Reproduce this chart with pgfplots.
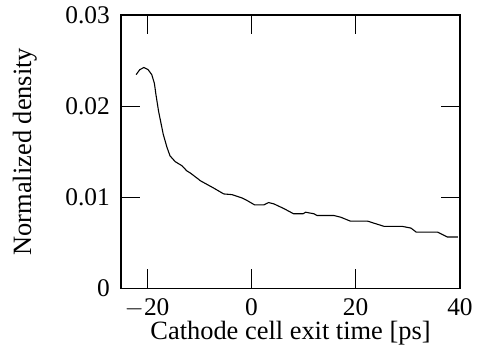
\documentclass[border=0pt]{standalone}
\usepackage{pgfplots}
\pgfplotsset{compat=1.18}
\usepackage{fontspec}
\setmainfont{Liberation Serif}
\begin{document}
\fontsize{26.5}{30}\selectfont
\begin{tikzpicture}
\useasboundingbox (-121bp,-62.7bp) rectangle (365bp,288.3bp);
\begin{axis}[
  at={(0,0)}, anchor=south west,
  scale only axis, width=339bp, height=273.3bp,
  xmin=-25, xmax=40, ymin=0, ymax=0.03,
  xtick={-20,0,20,40}, xticklabels={$-$20,0,20,40},
  ytick={0,0.01,0.02,0.03}, yticklabels={0,0.01,0.02,0.03},
  scaled y ticks=false,
  tick align=inside, major tick length=19bp,
  tick style={line width=1.1pt, black},
  axis line style={line width=1.1pt},
  /pgf/number format/assume math mode=true,
  ticklabel style={font=\fontsize{25.5}{30}\selectfont, inner sep=0pt},
  label style={font=\fontsize{26.5}{30}\selectfont},
  xticklabel style={yshift=-10bp},
  yticklabel style={xshift=-11bp},
  xlabel={Cathode cell exit time [ps]},
  ylabel={Normalized density},
  xlabel style={at={(rel axis cs:0.5,0)}, anchor=north, inner sep=0pt, yshift=-33bp},
  ylabel style={at={(rel axis cs:0,0.5)}, anchor=south, inner sep=0pt, yshift=84bp},
]
\addplot[black, line width=1.1pt] coordinates {
(-22.1,0.02345) (-21.4,0.0240) (-20.6,0.02424) (-19.8,0.0240) (-19.1,0.02345)
(-18.6,0.0225) (-18.3,0.02127) (-17.8,0.01945) (-16.9,0.0169) (-16.2,0.0155)
(-15.6,0.01454) (-14.6,0.0139) (-13.3,0.01345) (-12.4,0.0129) (-11.7,0.01265)
(-10.2,0.0120) (-9.8,0.01181) (-7.25,0.01101) (-5.3,0.01036) (-3.7,0.01028)
(-1.8,0.00992) (-0.8,0.00963) (0.6,0.00916) (2.4,0.00916) (3.3,0.00941)
(4.3,0.00927) (6.2,0.00876) (8.1,0.00818) (9.9,0.00818) (10.4,0.00835)
(12.0,0.00818) (12.6,0.00799) (15.8,0.00799) (17.1,0.00781) (19.0,0.00737)
(22.3,0.00737) (23.5,0.00715) (25.5,0.00679) (29.0,0.00679) (30.6,0.00661)
(31.6,0.00617) (35.7,0.00617) (37.6,0.00563) (39.6,0.00563)
};
\end{axis}
\end{tikzpicture}
\end{document}
